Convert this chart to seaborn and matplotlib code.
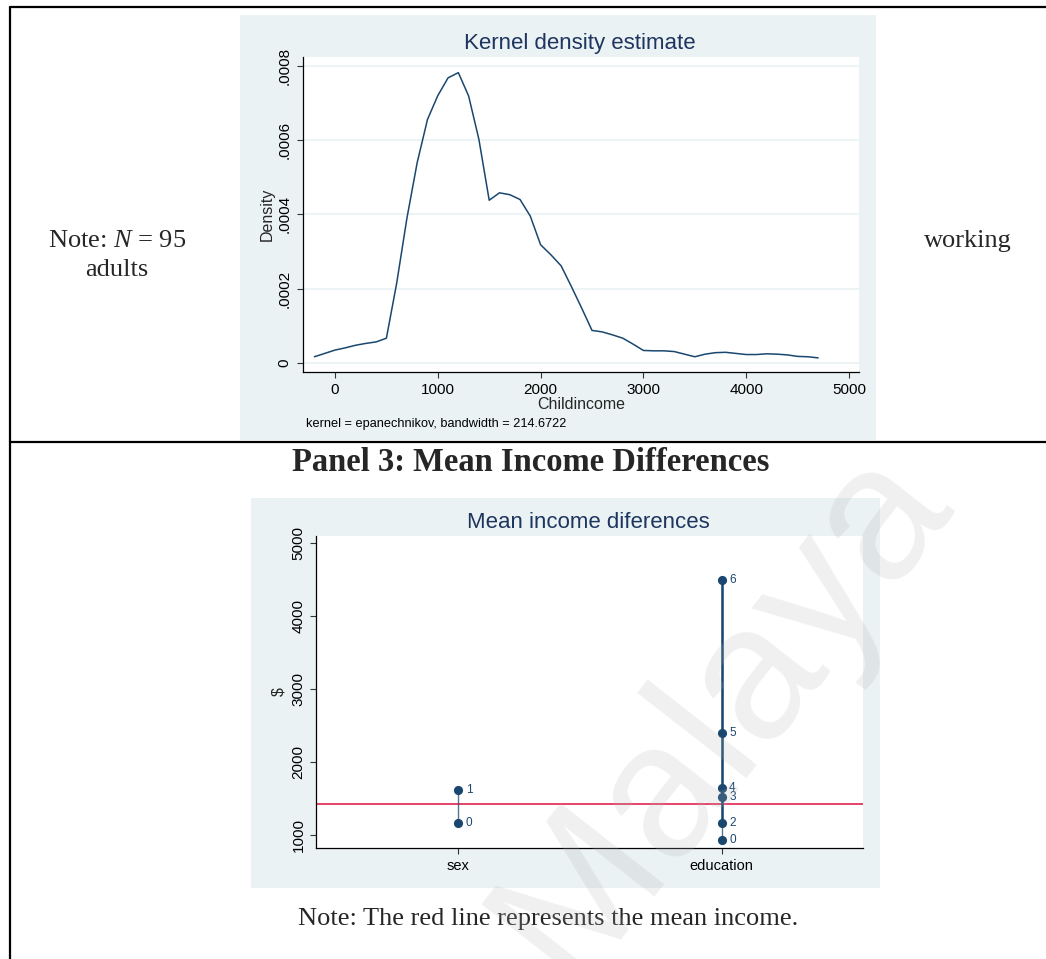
import matplotlib
matplotlib.use("Agg")
import matplotlib.pyplot as plt
import numpy as np
import pandas as pd
import seaborn as sns
from matplotlib.patches import Rectangle
from matplotlib.lines import Line2D
from matplotlib.ticker import FuncFormatter, FixedLocator

# ---------------------------------------------------------------------------
# Data
# ---------------------------------------------------------------------------
# Kernel density of child income (Epanechnikov, 50 evaluation points)
income_grid = [-200, -100, 0, 100, 200, 300, 400, 500, 600, 700,
               800, 900, 1000, 1100, 1200, 1300, 1400, 1500, 1600, 1700,
               1800, 1900, 2000, 2100, 2200, 2300, 2400, 2500, 2600, 2700,
               2800, 2900, 3000, 3100, 3200, 3300, 3400, 3500, 3600, 3700,
               3800, 3900, 4000, 4100, 4200, 4300, 4400, 4500, 4600, 4700]
density = [0.000016, 0.000025, 0.000034, 0.000040, 0.000047, 0.000052,
           0.000056, 0.000066, 0.000214, 0.000390, 0.000540, 0.000656,
           0.000720, 0.000768, 0.000782, 0.000719, 0.000602, 0.000438,
           0.000458, 0.000453, 0.000440, 0.000395, 0.000318, 0.000291,
           0.000261, 0.000205, 0.000147, 0.000087, 0.000083, 0.000075,
           0.000066, 0.000050, 0.000033, 0.000032, 0.000032, 0.000030,
           0.000023, 0.000016, 0.000023, 0.000027, 0.000028, 0.000025,
           0.000022, 0.000022, 0.000024, 0.000023, 0.000021, 0.000017,
           0.000016, 0.000013]
density_ticks = [0, 0.0002, 0.0004, 0.0006, 0.0008]
income_ticks = [0, 1000, 2000, 3000, 4000, 5000]

# Mean income by level of each grouping variable
group_names = ["sex", "education"]
groups = ["sex", "sex", "education", "education", "education",
          "education", "education", "education"]
levels = ["0", "1", "0", "2", "3", "4", "5", "6"]
mean_income = [1170, 1620, 935, 1165, 1520, 1640, 2400, 4490]
overall_mean = 1425
dollar_ticks = [1000, 2000, 3000, 4000, 5000]

# ---------------------------------------------------------------------------
# Styling
# ---------------------------------------------------------------------------
sns.set_style("ticks")
plt.rcParams["font.family"] = ["Liberation Sans", "DejaVu Sans"]
plt.rcParams["mathtext.fontset"] = "custom"
plt.rcParams["mathtext.it"] = "Liberation Serif:italic"
plt.rcParams["mathtext.rm"] = "Liberation Serif"

NAVY = "#1a476f"
TITLE = "#1e3560"
REGION = "#eaf2f3"
RED = "#e0103e"
SERIF = ["Liberation Serif", "DejaVu Serif"]

W, H = 1046, 959
fig = plt.figure(figsize=(W / 100, H / 100), dpi=100)


def rect(x0, y0, x1, y1):
    """Pixel box (top-left origin) to figure-fraction [l, b, w, h]."""
    return [x0 / W, 1 - y1 / H, (x1 - x0) / W, (y1 - y0) / H]


def fx(x):
    return x / W


def fy(y):
    return 1 - y / H


# Table rules
for (xa, ya, xb, yb) in [(10, 7, 1046, 7), (10, 441.5, 1046, 441.5), (10, 7, 10, 959)]:
    fig.add_artist(Line2D([fx(xa), fx(xb)], [fy(ya), fy(yb)], color="black",
                          lw=1.6, transform=fig.transFigure, zorder=5))

# Graph regions
for (x0, y0, x1, y1) in [(239.5, 15, 875.5, 440.5), (251, 497.5, 880, 888)]:
    l, b, w, h = rect(x0, y0, x1, y1)
    fig.add_artist(Rectangle((l, b), w, h, transform=fig.transFigure,
                             facecolor=REGION, edgecolor="none", zorder=0))


def style_axes(ax):
    ax.set_facecolor("white")
    for s in ["top", "right"]:
        ax.spines[s].set_visible(False)
    for s in ["left", "bottom"]:
        ax.spines[s].set_color("black")
        ax.spines[s].set_linewidth(0.9)
    ax.tick_params(axis="both", direction="out", length=4.3, width=0.8,
                   color="#333333", labelsize=11, pad=3.5, labelcolor="black")
    ax.tick_params(axis="y", labelrotation=90)
    for lab in ax.get_yticklabels():
        lab.set_va("center")


# ---------------------------------------------------------------------------
# Kernel density panel
# ---------------------------------------------------------------------------
ax1 = fig.add_axes(rect(302.7, 56.7, 859.3, 372.3))
ax1.set_axisbelow(True)
kde_df = pd.DataFrame({"Childincome": income_grid, "Density": density})
sns.lineplot(data=kde_df, x="Childincome", y="Density", ax=ax1,
             color=NAVY, linewidth=1.1, sort=False)
ax1.set_xlim(-314, 5100)
ax1.set_ylim(-0.0000259, 0.000825)
ax1.yaxis.set_major_locator(FixedLocator(density_ticks))
ax1.xaxis.set_major_locator(FixedLocator(income_ticks))
ax1.yaxis.set_major_formatter(FuncFormatter(
    lambda v, p: "0" if abs(v) < 1e-12 else f"{v:.4f}".lstrip("0")))
ax1.grid(axis="y", color=REGION, linewidth=1.2)
ax1.grid(axis="x", visible=False)
style_axes(ax1)
ax1.set_xlabel("Childincome", fontsize=11.5, labelpad=0)
ax1.set_ylabel("Density", fontsize=11.5, labelpad=2)

fig.text(fx(580), fy(43), "Kernel density estimate", ha="center",
         va="center", fontsize=16, color=TITLE)
fig.text(fx(306), fy(424), "kernel = epanechnikov, bandwidth = 214.6722",
         ha="left", va="center", fontsize=9.2, color="black")

# ---------------------------------------------------------------------------
# Mean income differences panel
# ---------------------------------------------------------------------------
ax2 = fig.add_axes(rect(316.3, 535.7, 863, 848.3))
means_df = pd.DataFrame({"group": groups, "level": levels, "income": mean_income})
pos = {g: i for i, g in enumerate(group_names)}

# range spikes linking the levels of each variable
for g, sub in means_df.groupby("group", sort=False):
    vals = sorted(sub["income"])
    ax2.plot([pos[g], pos[g]], [vals[0], vals[-1]], color=NAVY,
             lw=1.0, alpha=0.75, zorder=2, solid_capstyle="butt")
    if len(vals) > 2:
        ax2.plot([pos[g], pos[g]], [vals[1], vals[-1]], color=NAVY,
                 lw=1.8, zorder=2, solid_capstyle="butt")

ax2.axhline(overall_mean, color=RED, lw=1.1, zorder=1)

sns.stripplot(data=means_df, x="group", y="income", order=group_names,
              jitter=False, color=NAVY, size=6.6, linewidth=0, ax=ax2,
              zorder=3)
for g, lv, v in zip(groups, levels, mean_income):
    ax2.annotate(lv, (pos[g], v), xytext=(5.5, 0), textcoords="offset points",
                 ha="left", va="center", fontsize=8.5, color=NAVY)

ax2.set_xlim(-0.538, 1.537)
ax2.set_ylim(817.6, 5104)
ax2.yaxis.set_major_locator(FixedLocator(dollar_ticks))
ax2.grid(False)
style_axes(ax2)
ax2.tick_params(axis="x", labelsize=10.5)
ax2.set_xlabel("")
ax2.set_ylabel("$", fontsize=11.5, labelpad=4)

fig.text(fx(588), fy(522), "Mean income diferences", ha="center",
         va="center", fontsize=16, color=TITLE)

# ---------------------------------------------------------------------------
# Document text
# ---------------------------------------------------------------------------
fig.text(fx(117), fy(241), "Note: $N$ = 95", ha="center", va="center",
         fontsize=19, family=SERIF)
fig.text(fx(117), fy(270), "adults", ha="center", va="center",
         fontsize=19, family=SERIF)
fig.text(fx(968), fy(241), "working", ha="center", va="center",
         fontsize=19, family=SERIF)
fig.text(fx(531), fy(462), "Panel 3: Mean Income Differences", ha="center",
         va="center", fontsize=23.5, fontweight="bold", family=SERIF)
fig.text(fx(548), fy(919), "Note: The red line represents the mean income.",
         ha="center", va="center", fontsize=19, family=SERIF)

# Watermark
fig.text(fx(570), fy(985), "Malaya", rotation=52, rotation_mode="anchor",
         ha="left", va="baseline", fontsize=138, color="#b4b4b4", alpha=0.2,
         zorder=10)

fig.savefig("out.png", dpi=100)
